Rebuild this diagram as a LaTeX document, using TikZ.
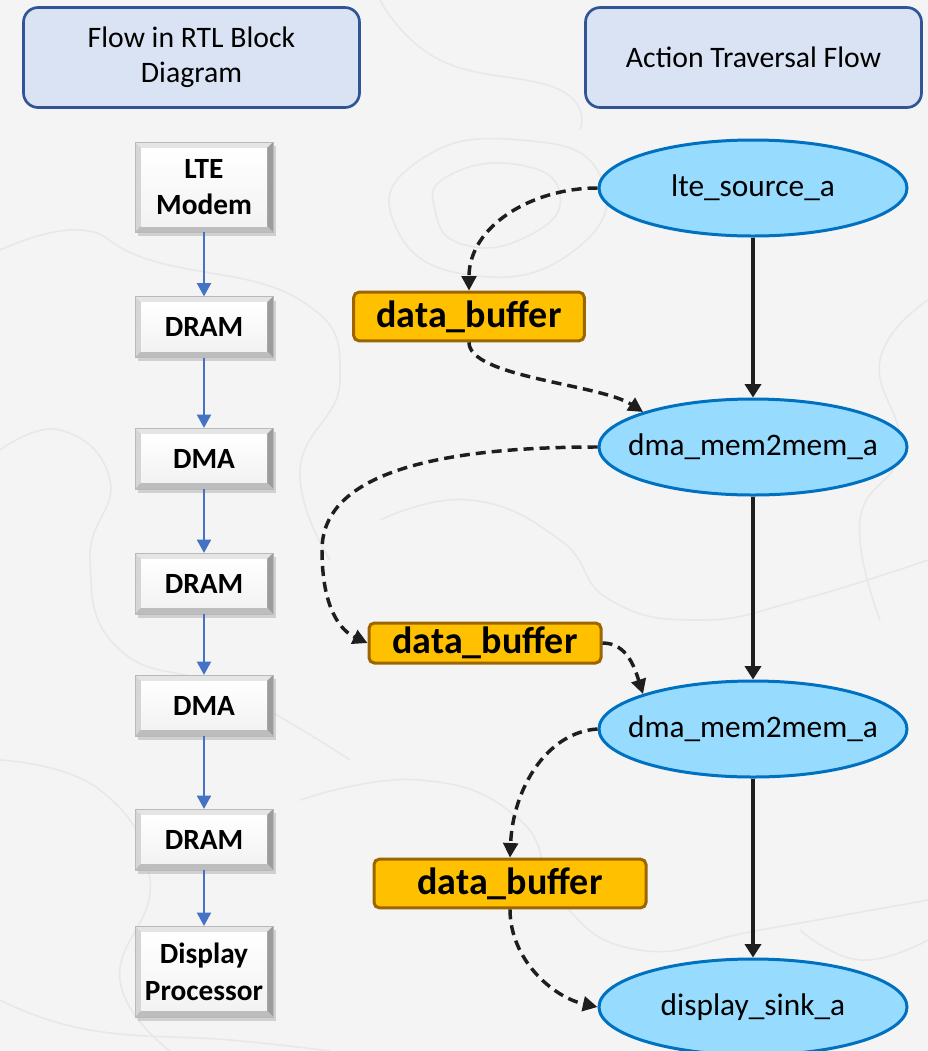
\documentclass[tikz,border=0pt]{standalone}
\usepackage{fontspec}
\setmainfont{Carlito}
\usepackage{tikz}
\usetikzlibrary{positioning,arrows.meta,shapes.geometric,calc,shadows}

\definecolor{bgpaper}{HTML}{F4F4F4}
\definecolor{contour}{HTML}{E8E8E8}
\definecolor{hdrfill}{HTML}{DAE3F3}
\definecolor{hdrline}{HTML}{2F5597}
\definecolor{actfill}{HTML}{97DCFF}
\definecolor{actline}{HTML}{0070C0}
\definecolor{buffill}{HTML}{FFC000}
\definecolor{bufline}{HTML}{9C6500}
\definecolor{hwarrow}{HTML}{4472C4}
\definecolor{flowink}{HTML}{1E1E1E}

\begin{document}
\begin{tikzpicture}[x=0.75pt, y=-0.75pt,
  hdrbox/.style={draw=hdrline, line width=2pt, fill=hdrfill, rounded corners=11pt,
    minimum width=252pt, minimum height=75pt, inner sep=0pt, align=center,
    font=\fontsize{22.3}{26}\selectfont},
  hwblock/.style={draw=gray!55, line width=0.4pt, minimum width=103.5pt, inner sep=0pt,
    align=center, font=\fontsize{22}{27.5}\selectfont\bfseries,
    drop shadow={shadow xshift=2.5pt, shadow yshift=-3pt, opacity=0.3},
    path picture={
      % bevelled frame: light top/left, dark bottom/right
      \coordinate (bnw) at (path picture bounding box.north west);
      \coordinate (bse) at (path picture bounding box.south east);
      \coordinate (bne) at (bnw -| bse);
      \coordinate (bsw) at (bnw |- bse);
      \fill[gray!20] (bnw) -- (bne) -- ([shift={(-4.5pt,-4.5pt)}]bne) -- ([shift={(4.5pt,-4.5pt)}]bnw) -- cycle;
      \fill[gray!32] (bnw) -- (bsw) -- ([shift={(4.5pt,4.5pt)}]bsw) -- ([shift={(4.5pt,-4.5pt)}]bnw) -- cycle;
      \fill[gray!78] (bne) -- (bse) -- ([shift={(-4.5pt,4.5pt)}]bse) -- ([shift={(-4.5pt,-4.5pt)}]bne) -- cycle;
      \fill[gray!52] (bsw) -- (bse) -- ([shift={(-4.5pt,4.5pt)}]bse) -- ([shift={(4.5pt,4.5pt)}]bsw) -- cycle;
      \shade[top color=white, bottom color=gray!10]
        ([shift={(4.5pt,-4.5pt)}]bnw) rectangle ([shift={(-4.5pt,4.5pt)}]bse);
    }},
  actnode/.style={ellipse, draw=actline, line width=2.25pt, fill=actfill,
    minimum width=231pt, minimum height=72pt, inner xsep=-14pt, inner ysep=0pt,
    font=\fontsize{23.5}{28}\selectfont},
  bufnode/.style={draw=bufline, line width=2.25pt, fill=buffill, rounded corners=4pt,
    inner sep=0pt, font=\fontsize{28.5}{34}\selectfont\bfseries},
  hwflow/.style={draw=hwarrow, line width=1.6pt, -{Triangle[length=10pt,width=10.5pt]}},
  ctrlflow/.style={draw=flowink, line width=2.6pt, -{Triangle[length=10pt,width=12pt]}},
  dataflow/.style={draw=flowink, line width=2.6pt, dash pattern=on 7.5pt off 4.5pt,
    -{Triangle[length=11pt,width=11pt]}}
]
  \useasboundingbox (0,0) rectangle (928,1051);
  \clip (0,0) rectangle (928,1051);
  \fill[bgpaper] (0,0) rectangle (928,1051);

  % faint contour lines in the backdrop
  \begin{scope}[draw=contour, line width=1.2pt]
    \draw plot[smooth cycle, tension=0.9] coordinates {(420,160) (520,140) (600,175) (575,250) (470,275) (395,225)};
    \draw plot[smooth cycle, tension=0.9] coordinates {(450,175) (520,165) (560,195) (530,235) (465,245) (435,210)};
    \draw plot[smooth, tension=0.8] coordinates {(0,250) (80,230) (150,260) (300,300) (340,380) (300,470) (330,560)};
    \draw plot[smooth, tension=0.8] coordinates {(0,450) (60,430) (110,480) (90,560) (120,650) (230,690) (350,760)};
    \draw plot[smooth, tension=0.8] coordinates {(380,520) (470,500) (560,540) (610,600) (700,620) (800,600) (928,560)};
    \draw plot[smooth, tension=0.8] coordinates {(928,300) (880,360) (900,450) (860,520) (880,620)};
    \draw plot[smooth, tension=0.8] coordinates {(0,760) (100,790) (150,880) (120,980) (170,1051)};
    \draw plot[smooth, tension=0.8] coordinates {(300,800) (420,780) (520,820) (560,900) (640,950) (760,930) (928,900)};
    \draw plot[smooth, tension=0.8] coordinates {(0,1000) (90,1030) (230,1040) (330,1051)};
    \draw plot[smooth, tension=0.8] coordinates {(380,0) (440,60) (560,90) (580,130)};
    \draw plot[smooth, tension=0.8] coordinates {(800,930) (860,960) (928,940)};
  \end{scope}

  % column headers
  \node[hdrbox] (hdrrtl) at (191.5,57.5) {Flow in RTL Block\\Diagram};
  \node[hdrbox] (hdract) at (753.5,57.5) {Action Traversal Flow};

  % RTL block column
  \node[hwblock, minimum height=67.5pt] (lte)   at (204,187)   {LTE\\Modem};
  \node[hwblock, minimum height=45.5pt] (dram1) at (204,327)   {DRAM};
  \node[hwblock, minimum height=45.5pt] (dma1)  at (204,458.5) {DMA};
  \node[hwblock, minimum height=45.5pt] (dram2) at (204,583.5) {DRAM};
  \node[hwblock, minimum height=45.5pt] (dma2)  at (204,705.5) {DMA};
  \node[hwblock, minimum height=45.5pt] (dram3) at (204,839.5) {DRAM};
  \node[hwblock, minimum height=68pt]   (disp)  at (204,971.5) {Display\\Processor};
  \foreach \a/\b in {lte/dram1, dram1/dma1, dma1/dram2, dram2/dma2, dma2/dram3, dram3/disp}
    \draw[hwflow] (\a.south) -- (\b.north);

  % action nodes
  \node[actnode] (ltesrc) at (753,188)  {lte\_source\_a};
  \node[actnode] (memA)   at (753,447)  {dma\_mem2mem\_a};
  \node[actnode] (memB)   at (753,729)  {dma\_mem2mem\_a};
  \node[actnode] (sink)   at (753,1007) {display\_sink\_a};
  \draw[ctrlflow] (ltesrc.south) -- (memA.north);
  \draw[ctrlflow] (memA.south) -- (memB.north);
  \draw[ctrlflow] (memB.south) -- (sink.north);

  % buffers between actions
  \node[bufnode, minimum width=173pt, minimum height=36.5pt] (bufA) at (469,316.5) {data\_buffer};
  \node[bufnode, minimum width=174pt, minimum height=30pt]   (bufB) at (485,643)   {data\_buffer};
  \node[bufnode, minimum width=204pt, minimum height=36.5pt] (bufC) at (510,883.5) {data\_buffer};

  \coordinate (loopB) at (322,550);
  \draw[dataflow] (ltesrc.west) .. controls +(-65,0) and +(0,-65) .. (bufA.north);
  \draw[dataflow] (bufA.south) .. controls +(0,35) and +(-43,-28) .. (memA.north west);
  \draw[dataflow] (memA.west) .. controls +(-180,0) and +(0,-70) .. (loopB)
                  .. controls +(0,60) and +(-26,-12) .. (bufB.west);
  \draw[dataflow] (bufB.east) .. controls +(25,0) and +(-8,-25) .. (memB.north west);
  \draw[dataflow] (memB.west) .. controls +(-50,3) and +(3,-70) .. (bufC.north);
  \draw[dataflow] (bufC.south) .. controls +(0,50) and +(-45,-10) .. (sink.west);
\end{tikzpicture}
\end{document}
